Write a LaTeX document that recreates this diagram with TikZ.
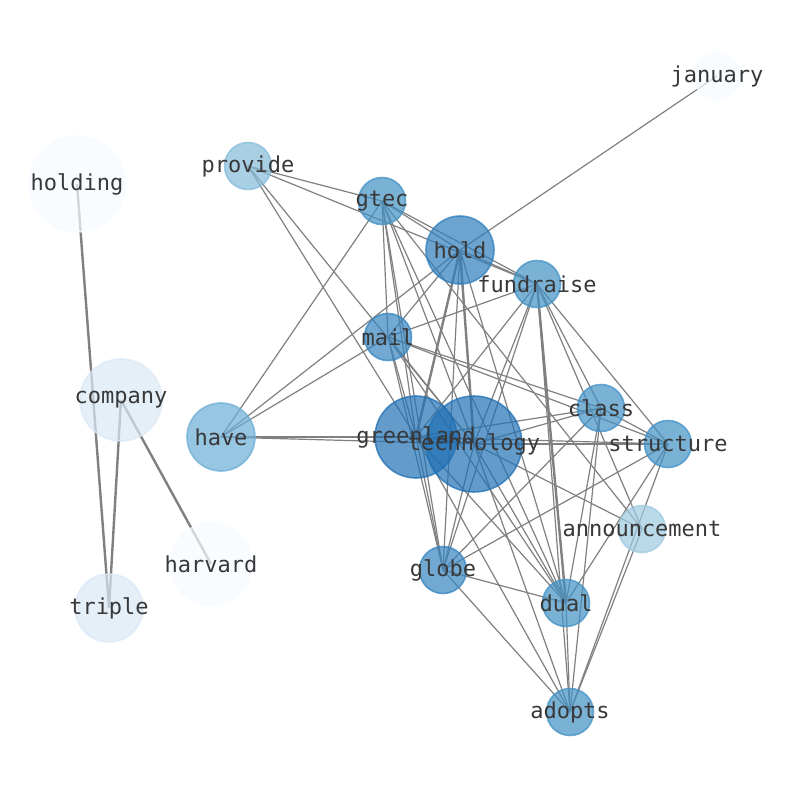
\documentclass[tikz,border=0pt]{standalone}
\usepackage{fontspec}
\newfontfamily\labelfont{DejaVu Sans Mono}
\usetikzlibrary{backgrounds}
\definecolor{blue0}{HTML}{F7FBFF}
\definecolor{blue1}{HTML}{DBE9F6}
\definecolor{blue2}{HTML}{9ECAE1}
\definecolor{blue3}{HTML}{85BCDB}
\definecolor{blue4}{HTML}{6BAED6}
\definecolor{blue5}{HTML}{4292C6}
\definecolor{blue6}{HTML}{3585C0}
\definecolor{blue7}{HTML}{2F7EBC}
\definecolor{blue8}{HTML}{2171B5}
\begin{document}
\begin{tikzpicture}
            [
                x=1pt, y=-1pt,
                main/.style = {draw=#1, fill=#1, circle, inner sep=0pt, line width=1.6pt, fill opacity=0.7, draw opacity=0.75},
                small/.style = {minimum size=47pt},
                medium/.style = {minimum size=68pt},
                large/.style = {minimum size=82pt},
                huge/.style = {minimum size=96pt},
                word/.style = {text=black!78, font=\labelfont\fontsize{22}{26}\selectfont},
                link/.style = {draw=black!50, line width=1.2pt},
                heavy/.style = {draw=black!50, line width=2.4pt}
            ]
            \useasboundingbox (0,0) rectangle (794,790);
            \node[main=blue0, small] (jan) at (717, 76) {};
            \node[main=blue0, huge] (holding) at (77, 184) {};
            \node[main=blue3, small] (provide) at (248, 166) {};
            \node[main=blue5, small] (gtec) at (382, 201) {};
            \node[main=blue7, medium] (hold) at (460, 250) {};
            \node[main=blue5, small] (fund) at (537, 284) {};
            \node[main=blue6, small] (mail) at (388, 337) {};
            \node[main=blue1, large] (company) at (121, 400) {};
            \node[main=blue4, medium] (have) at (221, 437) {};
            \node[main=blue8, large] (green) at (416, 437) {};
            \node[main=blue8, huge] (tech) at (474, 444) {};
            \node[main=blue5, small] (class) at (601, 408) {};
            \node[main=blue5, small] (struct) at (668, 444) {};
            \node[main=blue2, small] (ann) at (642, 529) {};
            \node[main=blue0, large] (harvard) at (211, 564) {};
            \node[main=blue6, small] (globe) at (443, 570) {};
            \node[main=blue5, small] (dual) at (566, 603) {};
            \node[main=blue1, medium] (triple) at (109, 608) {};
            \node[main=blue5, small] (adopts) at (570, 712) {};
            % labels on top of every circle
            \node[word] (jan-w) at (jan) {january};
            \node[word] (holding-w) at (holding) {holding};
            \node[word] (provide-w) at (provide) {provide};
            \node[word] (gtec-w) at (gtec) {gtec};
            \node[word] (hold-w) at (hold) {hold};
            \node[word] (fund-w) at (fund) {fundraise};
            \node[word] (mail-w) at (mail) {mail};
            \node[word] (company-w) at (company) {company};
            \node[word] (have-w) at (have) {have};
            \node[word] (green-w) at (green) {greenland};
            \node[word] (tech-w) at (tech) {technology};
            \node[word] (class-w) at (class) {class};
            \node[word] (struct-w) at (struct) {structure};
            \node[word] (ann-w) at (ann) {announcement};
            \node[word] (harvard-w) at (harvard) {harvard};
            \node[word] (globe-w) at (globe) {globe};
            \node[word] (dual-w) at (dual) {dual};
            \node[word] (triple-w) at (triple) {triple};
            \node[word] (adopts-w) at (adopts) {adopts};
            % links run centre to centre, under the circles
            \begin{scope}[on background layer]
                \fill[white] (0,0) rectangle (794,790);
                \draw[link] (jan.center) -- (hold.center);
                \draw[link] (provide.center) -- (gtec.center);
                \draw[link] (provide.center) -- (fund.center);
                \draw[link] (provide.center) -- (green.center);
                \draw[link] (provide.center) -- (tech.center);
                \draw[link] (gtec.center) -- (hold.center);
                \draw[link] (gtec.center) -- (have.center);
                \draw[link] (gtec.center) -- (mail.center);
                \draw[link] (gtec.center) -- (green.center);
                \draw[link] (gtec.center) -- (tech.center);
                \draw[link] (gtec.center) -- (globe.center);
                \draw[link] (gtec.center) -- (ann.center);
                \draw[link] (gtec.center) -- (dual.center);
                \draw[link] (gtec.center) -- (fund.center);
                \draw[link] (hold.center) -- (have.center);
                \draw[link] (hold.center) -- (mail.center);
                \draw[heavy] (hold.center) -- (green.center);
                \draw[heavy] (hold.center) -- (tech.center);
                \draw[link] (hold.center) -- (globe.center);
                \draw[link] (hold.center) -- (fund.center);
                \draw[link] (hold.center) -- (dual.center);
                \draw[link] (fund.center) -- (mail.center);
                \draw[link] (fund.center) -- (green.center);
                \draw[link] (fund.center) -- (tech.center);
                \draw[link] (fund.center) -- (globe.center);
                \draw[heavy] (fund.center) -- (dual.center);
                \draw[link] (fund.center) -- (adopts.center);
                \draw[link] (fund.center) -- (class.center);
                \draw[link] (fund.center) -- (struct.center);
                \draw[link] (fund.center) -- (ann.center);
                \draw[link] (mail.center) -- (have.center);
                \draw[link] (mail.center) -- (green.center);
                \draw[link] (mail.center) -- (tech.center);
                \draw[link] (mail.center) -- (globe.center);
                \draw[link] (mail.center) -- (dual.center);
                \draw[link] (mail.center) -- (class.center);
                \draw[link] (mail.center) -- (struct.center);
                \draw[link] (have.center) -- (green.center);
                \draw[link] (have.center) -- (tech.center);
                \draw[link] (green.center) -- (tech.center);
                \draw[link] (green.center) -- (class.center);
                \draw[link] (green.center) -- (struct.center);
                \draw[link] (green.center) -- (globe.center);
                \draw[link] (green.center) -- (dual.center);
                \draw[link] (green.center) -- (adopts.center);
                \draw[link] (tech.center) -- (class.center);
                \draw[link] (tech.center) -- (struct.center);
                \draw[link] (tech.center) -- (ann.center);
                \draw[link] (tech.center) -- (globe.center);
                \draw[link] (tech.center) -- (dual.center);
                \draw[link] (tech.center) -- (adopts.center);
                \draw[link] (class.center) -- (struct.center);
                \draw[link] (class.center) -- (globe.center);
                \draw[link] (class.center) -- (dual.center);
                \draw[link] (class.center) -- (adopts.center);
                \draw[link] (struct.center) -- (globe.center);
                \draw[link] (struct.center) -- (dual.center);
                \draw[link] (struct.center) -- (adopts.center);
                \draw[link] (ann.center) -- (adopts.center);
                \draw[link] (globe.center) -- (dual.center);
                \draw[link] (globe.center) -- (adopts.center);
                \draw[link] (dual.center) -- (adopts.center);
                \draw[heavy] (holding.center) -- (triple.center);
                \draw[heavy] (company.center) -- (triple.center);
                \draw[heavy] (company.center) -- (harvard.center);
            \end{scope}
        \end{tikzpicture}
\end{document}
